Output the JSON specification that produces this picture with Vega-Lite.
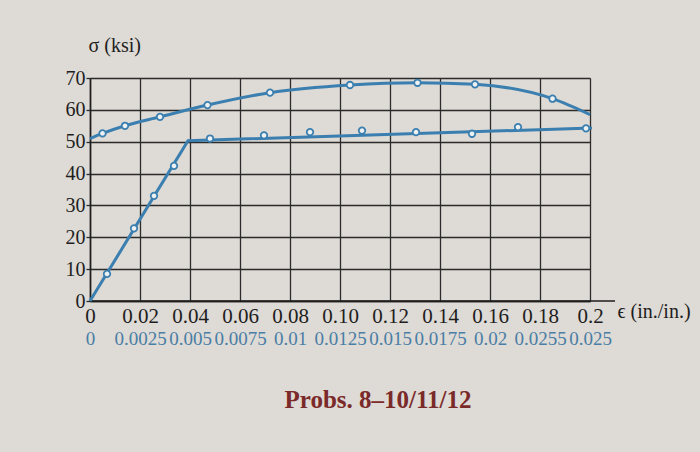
{
  "$schema": "https://vega.github.io/schema/vega-lite/v6.json",
  "width": 500,
  "height": 223,
  "autosize": {"type": "none"},
  "padding": {"left": 90, "top": 78, "right": 110, "bottom": 151},
  "background": "#dedad5",
  "config": {"view": {"stroke": null}, "font": "Liberation Serif"},
  "title": {
    "text": "Probs. 8–10/11/12",
    "orient": "bottom",
    "anchor": "middle",
    "offset": 40,
    "dx": 38,
    "fontSize": 25,
    "fontWeight": "bold",
    "color": "#7b2a2a",
    "font": "Liberation Serif"
  },
  "datasets": {
    "upper": [
      {"e": 0, "s": 51, "m": 0},
      {"e": 0.005, "s": 52.6, "m": 1},
      {"e": 0.014, "s": 55, "m": 1},
      {"e": 0.028, "s": 57.8, "m": 1},
      {"e": 0.047, "s": 61.5, "m": 1},
      {"e": 0.072, "s": 65.4, "m": 1},
      {"e": 0.104, "s": 67.8, "m": 1},
      {"e": 0.131, "s": 68.5, "m": 1},
      {"e": 0.154, "s": 68, "m": 1},
      {"e": 0.185, "s": 63.5, "m": 1},
      {"e": 0.2, "s": 58.5, "m": 0}
    ],
    "axisext": [{"e": 0, "e2": 0.21, "s": 0}],
    "lower_line": [
      {"e": 0, "s": 0},
      {"e": 0.0049, "s": 50.3},
      {"e": 0.0251, "s": 54.3}
    ],
    "lower_pts": [
      {"e": 0.00085, "s": 8.5},
      {"e": 0.0022, "s": 22.8},
      {"e": 0.0032, "s": 33},
      {"e": 0.0042, "s": 42.4},
      {"e": 0.006, "s": 51},
      {"e": 0.0087, "s": 52},
      {"e": 0.011, "s": 53},
      {"e": 0.0136, "s": 53.5},
      {"e": 0.0163, "s": 53},
      {"e": 0.0191, "s": 52.5},
      {"e": 0.0214, "s": 54.6},
      {"e": 0.0248, "s": 54.2}
    ]
  },
  "encoding": {
    "y": {
      "field": "s",
      "type": "quantitative",
      "scale": {"domain": [0, 70]},
      "axis": {
        "values": [0, 10, 20, 30, 40, 50, 60, 70],
        "title": "σ (ksi)",
        "titleAngle": 0,
        "titleX": -2,
        "titleY": -33,
        "titleAlign": "left",
        "titleBaseline": "middle",
        "titleFontSize": 20,
        "titleFontWeight": "normal",
        "titleColor": "#1e1e1e",
        "titleFont": "Liberation Serif",
        "labelFontSize": 20,
        "labelColor": "#1e1e1e",
        "labelFont": "Liberation Serif",
        "labelPadding": 1,
        "ticks": true,
        "tickSize": 4,
        "tickColor": "#2b2b2b",
        "tickWidth": 1.3,
        "domainColor": "#1e1e1e",
        "domainWidth": 1.6,
        "grid": true,
        "gridColor": "#2b2b2b",
        "gridWidth": 1.3,
        "gridOpacity": 1
      }
    }
  },
  "resolve": {"scale": {"x": "independent"}, "axis": {"x": "independent"}},
  "layer": [
    {
      "encoding": {
        "x": {
          "field": "e",
          "type": "quantitative",
          "scale": {"domain": [0, 0.2], "nice": false},
          "axis": {
            "orient": "bottom",
            "values": [0, 0.02, 0.04, 0.06, 0.08, 0.1, 0.12, 0.14, 0.16, 0.18, 0.2],
            "labelExpr": "datum.value == 0 ? '0' : (abs(datum.value - 0.2) < 1e-9 ? '0.2' : format(datum.value, '.2f'))",
            "labelFontSize": 21,
            "labelColor": "#1e1e1e",
            "labelFont": "Liberation Serif",
            "labelPadding": 4,
            "labelOverlap": false,
            "labelFlush": false,
            "ticks": false,
            "domainColor": "#1e1e1e",
            "domainWidth": 1.6,
            "grid": true,
            "gridColor": "#2b2b2b",
            "gridWidth": 1.3,
            "gridOpacity": 1,
            "title": "ϵ (in./in.)",
            "titleX": 527,
            "titleY": 10,
            "titleAlign": "left",
            "titleBaseline": "middle",
            "titleFontSize": 20,
            "titleFontWeight": "normal",
            "titleColor": "#1e1e1e",
            "titleFont": "Liberation Serif"
          }
        }
      },
      "layer": [
        {
          "data": {"name": "axisext"},
          "mark": {"type": "rule", "color": "#1e1e1e", "strokeWidth": 1.6},
          "encoding": {"x2": {"field": "e2"}}
        },
        {
          "data": {"name": "upper"},
          "mark": {"type": "line", "color": "#3a7fb0", "strokeWidth": 3, "interpolate": "monotone"},
          "encoding": {}
        },
        {
          "data": {"name": "upper"},
          "transform": [{"filter": "datum.m == 1"}],
          "mark": {"type": "point", "shape": "circle", "size": 42, "filled": true, "fill": "#eef1f2", "stroke": "#3a7fb0", "strokeWidth": 1.8, "opacity": 1},
          "encoding": {}
        }
      ]
    },
    {
      "encoding": {
        "x": {
          "field": "e",
          "type": "quantitative",
          "scale": {"domain": [0, 0.025], "nice": false},
          "axis": {
            "orient": "bottom",
            "values": [0, 0.0025, 0.005, 0.0075, 0.01, 0.0125, 0.015, 0.0175, 0.02, 0.0225, 0.025],
            "labelExpr": "abs(datum.value - 0.0225) < 1e-9 ? '0.0255' : format(datum.value, '~g')",
            "labelFontSize": 19,
            "labelColor": "#4a7ea6",
            "labelFont": "Liberation Serif",
            "labelPadding": 28,
            "labelOverlap": false,
            "labelFlush": false,
            "ticks": false,
            "domain": false,
            "grid": false,
            "title": null
          }
        }
      },
      "layer": [
        {
          "data": {"name": "lower_line"},
          "mark": {"type": "line", "color": "#3a7fb0", "strokeWidth": 3},
          "encoding": {}
        },
        {
          "data": {"name": "lower_pts"},
          "mark": {"type": "point", "shape": "circle", "size": 42, "filled": true, "fill": "#eef1f2", "stroke": "#3a7fb0", "strokeWidth": 1.8, "opacity": 1},
          "encoding": {}
        }
      ]
    }
  ]
}
